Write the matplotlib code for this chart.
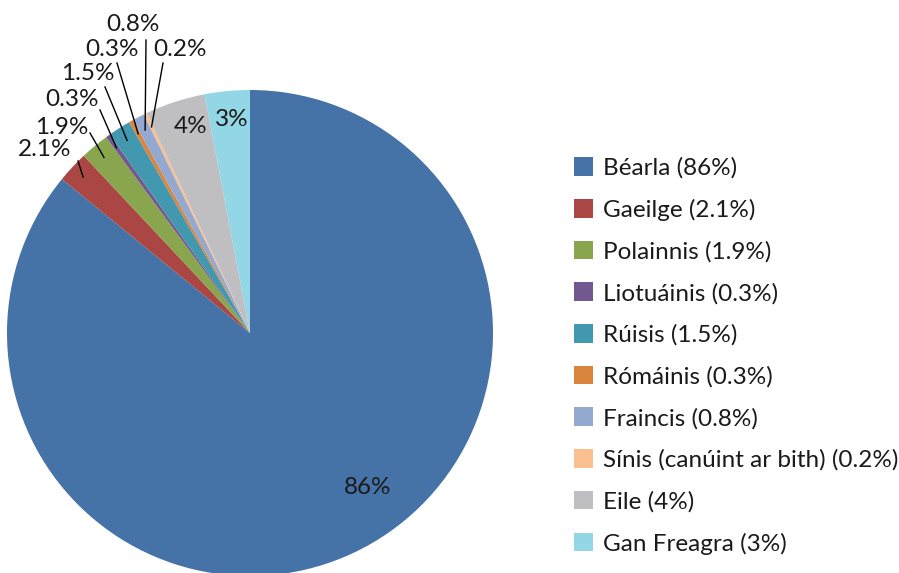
import numpy as np
import matplotlib
matplotlib.use("Agg")
import matplotlib.pyplot as plt

labels = ["Béarla", "Gaeilge", "Polainnis", "Liotuáinis", "Rúisis", "Rómáinis",
          "Fraincis", "Sínis (canúint ar bith)", "Eile", "Gan Freagra"]
values = [86, 2.1, 1.9, 0.3, 1.5, 0.3, 0.8, 0.2, 4, 3]
value_text = ["86%", "2.1%", "1.9%", "0.3%", "1.5%", "0.3%", "0.8%", "0.2%", "4%", "3%"]
colors = ["#4572A7", "#AA4643", "#89A54E", "#71588F", "#4198AF", "#DB843D",
          "#93A9CF", "#FAC090", "#BFBFC1", "#93D6E5"]

plt.rcParams['font.family'] = ['Lato', 'DejaVu Sans']

W, H = 899, 573
fig = plt.figure(figsize=(W / 100, H / 100), dpi=100)

# pie centre and radius in pixels
cx, cy, R = 250, 333, 243
ax = fig.add_axes([(cx - R) / W, (H - cy - R) / H, 2 * R / W, 2 * R / H])

wedges, _ = ax.pie(values, colors=colors, startangle=90, counterclock=False,
                   radius=1, wedgeprops=dict(linewidth=0))
ax.set_xlim(-1, 1)
ax.set_ylim(-1, 1)
ax.axis('off')

def px(x, y):
    return (x - cx) / R, (cy - y) / R

# label placement (pixels): inside labels for big slices, leader lines for the rest
inside = {0: (368, 487), 8: (191, 127), 9: (232, 120)}
outside = {1: (45, 150), 2: (62, 128), 3: (72, 100), 4: (88, 74),
           5: (112, 50), 6: (133, 25), 7: (180, 50)}
line_start = {1: (78, 161), 2: (90, 133), 3: (100, 110), 4: (105, 87),
              5: (117, 63), 6: (146, 40), 7: (163, 63)}

fs = 17.5
txt = '#1a1a1a'
for i, w in enumerate(wedges):
    if i in inside:
        ax.text(*px(*inside[i]), value_text[i], ha='center', va='center',
                fontsize=fs, color=txt)
    else:
        mid = np.deg2rad((w.theta1 + w.theta2) / 2)
        tip = (0.94 * np.cos(mid), 0.94 * np.sin(mid))
        ax.plot([px(*line_start[i])[0], tip[0]], [px(*line_start[i])[1], tip[1]],
                color='black', lw=1, clip_on=False)
        ax.text(*px(*outside[i]), value_text[i], ha='center', va='center',
                fontsize=fs, color=txt)

leg_labels = [f"{l} ({t})" for l, t in zip(labels, value_text)]
leg = fig.legend(wedges, leg_labels, loc='upper left', bbox_to_anchor=(574 / W, 1 - 157 / H),
                 frameon=False, fontsize=fs, handlelength=0.8, handleheight=0.8,
                 handletextpad=0.4, labelspacing=0.82, borderaxespad=0, borderpad=0)
for t in leg.get_texts():
    t.set_color(txt)

fig.savefig("out.png", dpi=100)
